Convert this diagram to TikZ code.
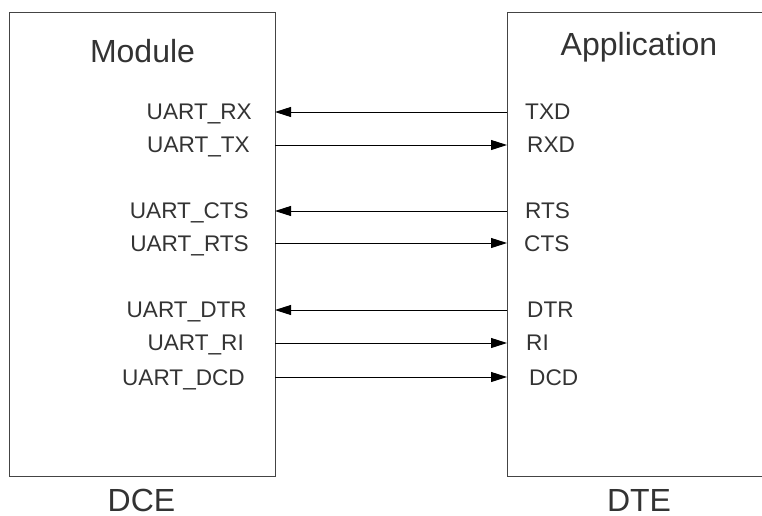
\documentclass[tikz,border=0pt]{standalone}
\usepackage{fontspec}
\setmainfont{Liberation Sans}
\usetikzlibrary{arrows.meta}
\definecolor{txt}{HTML}{333333}
\definecolor{edge}{HTML}{444444}
\begin{document}
\begin{tikzpicture}[x=1pt,y=-1pt,
  big/.style={inner sep=0pt,text=txt,font=\fontsize{32}{38}\selectfont,anchor=base},
  sig/.style={inner sep=0pt,text=txt,font=\fontsize{22.6}{27}\selectfont},
  arr/.style={draw=black,line width=0.9pt,-{Triangle[length=16pt,width=10pt]}},
  boxline/.style={draw=edge,line width=1pt}]
\useasboundingbox (0,0) rectangle (762,515);
% boxes
\node[boxline,minimum width=266pt,minimum height=464pt,inner sep=0pt,outer sep=0pt] (dce) at (142,244) {};
\node[draw=none,minimum width=255pt,minimum height=464pt,inner sep=0pt,outer sep=0pt] (dte) at (634.5,244) {};
\draw[boxline] (dte.north east) -- (dte.north west) -- (dte.south west) -- (dte.south east);
% titles
\node[big] (tmod) at (142.5,62) {Module};
\node[big] (tapp) at (639,55) {Application};
\node[big] (tdce) at (141.5,511) {DCE};
\node[big] (tdte) at (639,511) {DTE};
% left labels
\node[sig,anchor=base east] (lrx) at (252,119) {UART\_RX};
\node[sig,anchor=base east] (ltx) at (250,152) {UART\_TX};
\node[sig,anchor=base east] (lcts) at (249,218) {UART\_CTS};
\node[sig,anchor=base east] (lrts) at (249,251) {UART\_RTS};
\node[sig,anchor=base east] (ldtr) at (247,317) {UART\_DTR};
\node[sig,anchor=base east] (lri) at (244,350) {UART\_RI};
\node[sig,anchor=base east] (ldcd) at (245,385) {UART\_DCD};
% right labels
\node[sig,anchor=base west] (rtxd) at (525,119) {TXD};
\node[sig,anchor=base west] (rrxd) at (527,152) {RXD};
\node[sig,anchor=base west] (rrts) at (525,218) {RTS};
\node[sig,anchor=base west] (rcts) at (524,251) {CTS};
\node[sig,anchor=base west] (rdtr) at (527,317) {DTR};
\node[sig,anchor=base west] (rri) at (526,350) {RI};
\node[sig,anchor=base west] (rdcd) at (529,385) {DCD};
% connectors
\draw[arr] (dte.west |- 0,112) -- (dce.east |- 0,112);
\draw[arr] (dce.east |- 0,145) -- (dte.west |- 0,145);
\draw[arr] (dte.west |- 0,211) -- (dce.east |- 0,211);
\draw[arr] (dce.east |- 0,243) -- (dte.west |- 0,243);
\draw[arr] (dte.west |- 0,310) -- (dce.east |- 0,310);
\draw[arr] (dce.east |- 0,343) -- (dte.west |- 0,343);
\draw[arr] (dce.east |- 0,377) -- (dte.west |- 0,377);
\end{tikzpicture}
\end{document}
